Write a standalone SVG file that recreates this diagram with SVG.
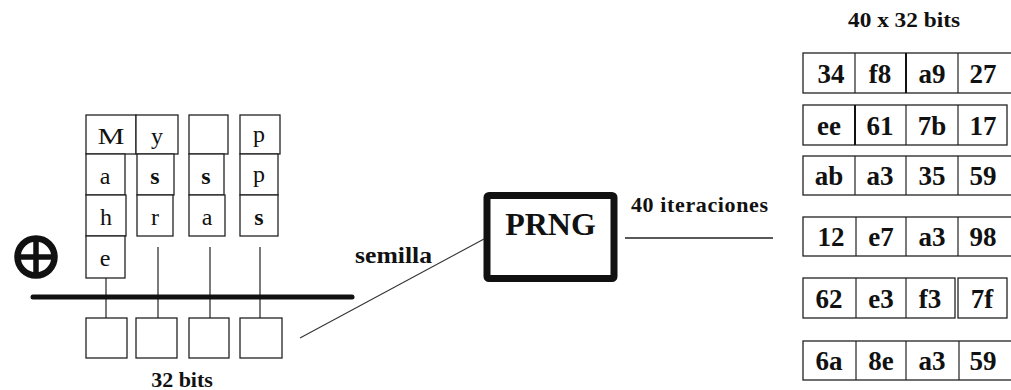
<svg xmlns="http://www.w3.org/2000/svg" width="1011" height="390" viewBox="0 0 1011 390">
  <style>
    .box { fill: #fff; stroke: #222; stroke-width: 1.3; }
    .wire { stroke: #222; stroke-width: 1.2; fill: none; }
    .ch { font-family: "Liberation Serif", serif; font-size: 24px; fill: #111; text-anchor: middle; }
    .lbl { font-family: "Liberation Serif", serif; font-weight: bold; fill: #111; }
    .hex { font-family: "Liberation Serif", serif; font-weight: bold; font-size: 27px; fill: #111; text-anchor: middle; }
  </style>
  <rect width="1011" height="390" fill="#fff"/>

  <!-- XOR symbol -->
  <g id="xor">
    <circle cx="36" cy="257" r="18.5" fill="none" stroke="#111" stroke-width="6.5"/>
    <line x1="36" y1="239" x2="36" y2="275" stroke="#111" stroke-width="5.5"/>
    <line x1="18" y1="257" x2="54" y2="257" stroke="#111" stroke-width="5.5"/>
  </g>

  <!-- passphrase characters, one column per byte -->
  <g id="col1">
    <rect class="box" x="86" y="115" width="50" height="39"/>
    <rect class="box" x="86" y="154" width="39" height="41"/>
    <rect class="box" x="86" y="195" width="40" height="41"/>
    <rect class="box" x="86" y="236" width="39" height="42"/>
    <text class="ch" x="111" y="144" textLength="27" lengthAdjust="spacingAndGlyphs">M</text>
    <text class="ch" x="105" y="184">a</text>
    <text class="ch" x="106" y="225">h</text>
    <text class="ch" x="105" y="266">e</text>
  </g>
  <g id="col2">
    <rect class="box" x="136" y="115" width="42" height="39"/>
    <rect class="box" x="137" y="154" width="37" height="41"/>
    <rect class="box" x="137" y="195" width="36" height="41"/>
    <text class="ch" x="157" y="144">y</text>
    <text class="ch" x="155" y="184" font-weight="bold">s</text>
    <text class="ch" x="155" y="225">r</text>
  </g>
  <g id="col3">
    <rect class="box" x="189" y="115" width="39" height="39"/>
    <rect class="box" x="189" y="154" width="35" height="41"/>
    <rect class="box" x="189" y="195" width="36" height="41"/>
    <text class="ch" x="206" y="184" font-weight="bold">s</text>
    <text class="ch" x="207" y="225">a</text>
  </g>
  <g id="col4">
    <rect class="box" x="240" y="115" width="40" height="39"/>
    <rect class="box" x="240" y="154" width="38" height="41"/>
    <rect class="box" x="240" y="195" width="38" height="41"/>
    <text class="ch" x="259" y="142">p</text>
    <text class="ch" x="259" y="182">p</text>
    <text class="ch" x="259" y="225" font-weight="bold">s</text>
  </g>

  <!-- 32-bit accumulator -->
  <g id="seed-bytes">
    <rect class="box" x="86" y="318" width="41" height="40"/>
    <rect class="box" x="136" y="318" width="41" height="40"/>
    <rect class="box" x="189" y="318" width="40" height="40"/>
    <rect class="box" x="240" y="318" width="42" height="40"/>
    <text class="lbl" x="182" y="387" font-size="22" text-anchor="middle">32 bits</text>
  </g>

  <!-- PRNG block -->
  <g id="prng">
    <rect x="487" y="195.5" width="127" height="83" rx="2" fill="#fff" stroke="#111" stroke-width="7"/>
    <text class="lbl" x="550.5" y="235" font-size="32" text-anchor="middle">PRNG</text>
  </g>

  <!-- output words -->
  <g id="output">
    <text class="lbl" x="848" y="27" font-size="21" textLength="112" lengthAdjust="spacingAndGlyphs">40 x 32 bits</text>
    <g id="row1">
      <rect class="box" x="803" y="53" width="210" height="40"/>
      <line class="wire" x1="855" y1="53" x2="855" y2="93"/>
      <line x1="906" y1="53" x2="906" y2="93" stroke="#111" stroke-width="2"/>
      <line class="wire" x1="958" y1="53" x2="958" y2="93"/>
      <text class="hex" x="831" y="83">34</text>
      <text class="hex" x="880" y="83">f8</text>
      <text class="hex" x="932" y="83">a9</text>
      <text class="hex" x="983" y="83">27</text>
    </g>
    <g id="row2">
      <rect class="box" x="803" y="105" width="204" height="40"/>
      <line x1="855" y1="105" x2="855" y2="145" stroke="#111" stroke-width="2"/>
      <line class="wire" x1="906" y1="105" x2="906" y2="145"/>
      <line class="wire" x1="958" y1="105" x2="958" y2="145"/>
      <text class="hex" x="829" y="135">ee</text>
      <text class="hex" x="880" y="135">61</text>
      <text class="hex" x="932" y="135">7b</text>
      <text class="hex" x="983" y="135">17</text>
    </g>
    <g id="row3">
      <rect class="box" x="803" y="156" width="210" height="39"/>
      <line class="wire" x1="855" y1="156" x2="855" y2="195"/>
      <line class="wire" x1="906" y1="156" x2="906" y2="195"/>
      <line class="wire" x1="958" y1="156" x2="958" y2="195"/>
      <text class="hex" x="829" y="185">ab</text>
      <text class="hex" x="880" y="185">a3</text>
      <text class="hex" x="932" y="185">35</text>
      <text class="hex" x="983" y="185">59</text>
    </g>
    <g id="row4">
      <rect class="box" x="803" y="217" width="210" height="39"/>
      <line class="wire" x1="856" y1="217" x2="856" y2="256"/>
      <line class="wire" x1="906" y1="217" x2="906" y2="256"/>
      <line class="wire" x1="958" y1="217" x2="958" y2="256"/>
      <text class="hex" x="831" y="246">12</text>
      <text class="hex" x="881" y="246">e7</text>
      <text class="hex" x="932" y="246">a3</text>
      <text class="hex" x="983" y="246">98</text>
    </g>
    <g id="row5">
      <rect class="box" x="803" y="278" width="152" height="40"/>
      <rect class="box" x="958" y="278" width="49" height="40"/>
      <line class="wire" x1="856" y1="278" x2="856" y2="318"/>
      <line class="wire" x1="906" y1="278" x2="906" y2="318"/>
      <text class="hex" x="829" y="308">62</text>
      <text class="hex" x="881" y="308">e3</text>
      <text class="hex" x="930" y="308">f3</text>
      <text class="hex" x="982" y="308">7f</text>
    </g>
    <g id="row6">
      <rect class="box" x="803" y="341" width="210" height="39"/>
      <line class="wire" x1="856" y1="341" x2="856" y2="380"/>
      <line class="wire" x1="906" y1="341" x2="906" y2="380"/>
      <line class="wire" x1="959" y1="341" x2="959" y2="380"/>
      <text class="hex" x="829" y="370">6a</text>
      <text class="hex" x="881" y="370">8e</text>
      <text class="hex" x="932" y="370">a3</text>
      <text class="hex" x="983" y="370">59</text>
    </g>
  </g>

  <!-- connectors -->
  <g id="connectors">
    <line class="wire" x1="106" y1="278" x2="106" y2="318"/>
    <line class="wire" x1="158" y1="247" x2="158" y2="318"/>
    <line class="wire" x1="210" y1="247" x2="210" y2="318"/>
    <line class="wire" x1="260" y1="247" x2="260" y2="318"/>
    <line x1="33" y1="297" x2="352" y2="297" stroke="#111" stroke-width="5" stroke-linecap="round"/>
    <line x1="300" y1="338" x2="484" y2="239" stroke="#333" stroke-width="1.1"/>
    <text class="lbl" x="355" y="263" font-size="23" textLength="77" lengthAdjust="spacingAndGlyphs">semilla</text>
    <line x1="625" y1="238" x2="773" y2="238" stroke="#222" stroke-width="1.5"/>
    <text class="lbl" x="631" y="212" font-size="22" textLength="137" lengthAdjust="spacing">40 iteraciones</text>
  </g>
</svg>
